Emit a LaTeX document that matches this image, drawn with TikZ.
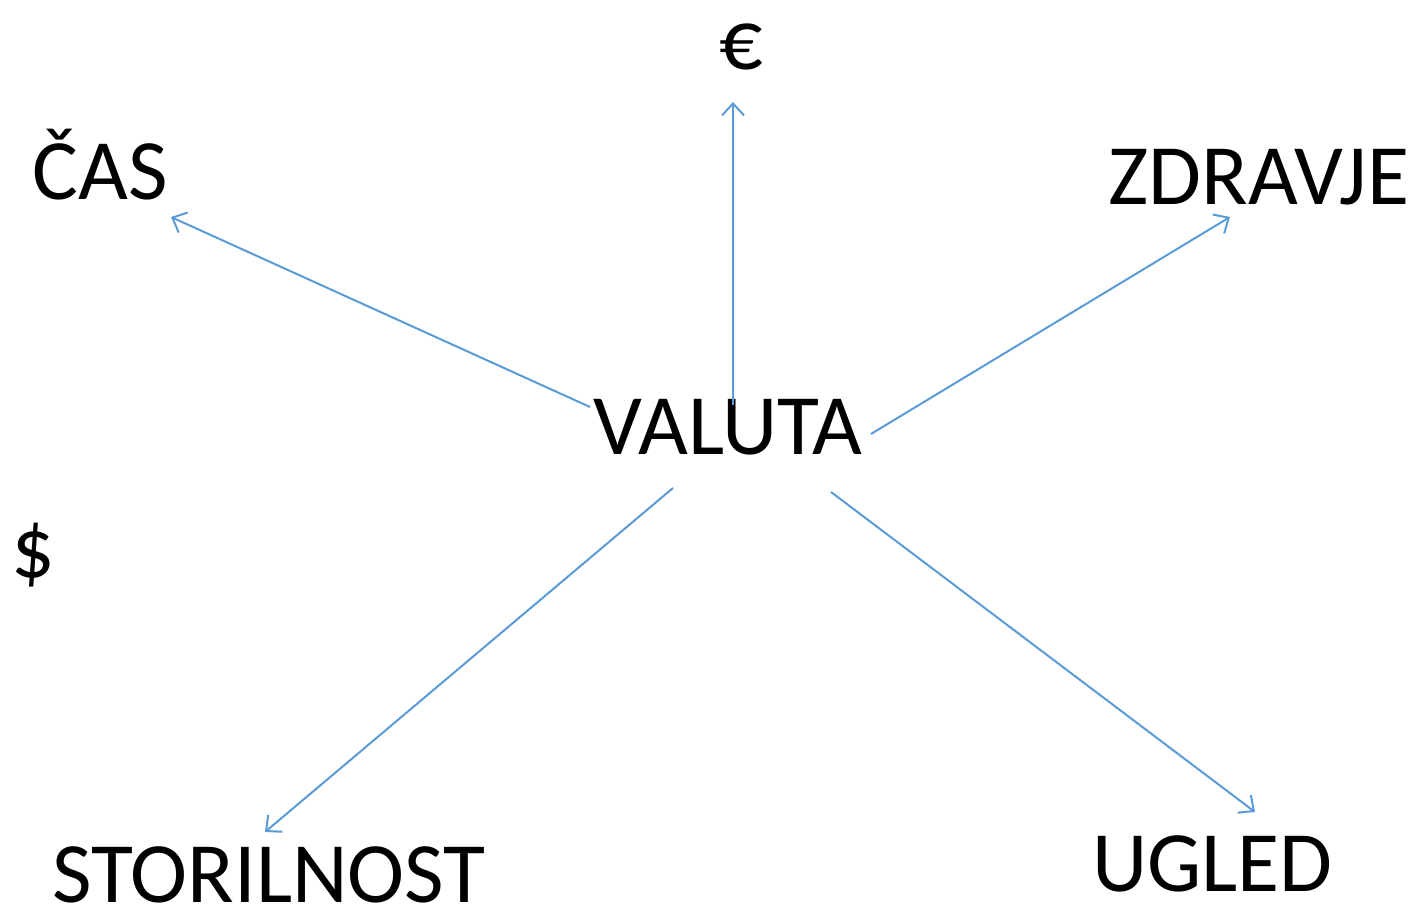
\documentclass[tikz,border=0pt]{standalone}
\usepackage{fontspec}
\setmainfont{Carlito}
\usetikzlibrary{arrows.meta}
\definecolor{arrowblue}{HTML}{5B9BD5}
\tikzset{
  lbl/.style={inner sep=0pt, anchor=base, font=\fontsize{86}{100}\selectfont},
  conn/.style={draw=arrowblue, line width=2pt, -{Straight Barb[length=12pt,width=22pt,line width=2pt]}}
}
\begin{document}
\begin{tikzpicture}[x=1pt,y=1pt]
\useasboundingbox (0,0) rectangle (1414,909);
\node[lbl] (euro) at (741,839) {€};
\node[lbl] (cas) at (100,709) {ČAS};
\node[lbl] (zdravje) at (1259,704) {ZDRAVJE};
\node[lbl] (valuta) at (728,454) {VALUTA};
\node[lbl] (dollar) at (33.5,331) {\$};
\node[lbl] (storilnost) at (269,6) {STORILNOST};
\node[lbl] (ugled) at (1212.5,17) {UGLED};
\coordinate (s1) at (733,504);
\coordinate (e1) at (733,807);
\coordinate (s2) at (590,502);
\coordinate (e2) at (171,692);
\coordinate (s3) at (871,475);
\coordinate (e3) at (1230,692);
\coordinate (s4) at (673,421);
\coordinate (e4) at (265,77);
\coordinate (s5) at (831,417);
\coordinate (e5) at (1255,97);
\draw[conn] (s1) -- (e1);
\draw[conn] (s2) -- (e2);
\draw[conn] (s3) -- (e3);
\draw[conn] (s4) -- (e4);
\draw[conn] (s5) -- (e5);
\end{tikzpicture}
\end{document}
